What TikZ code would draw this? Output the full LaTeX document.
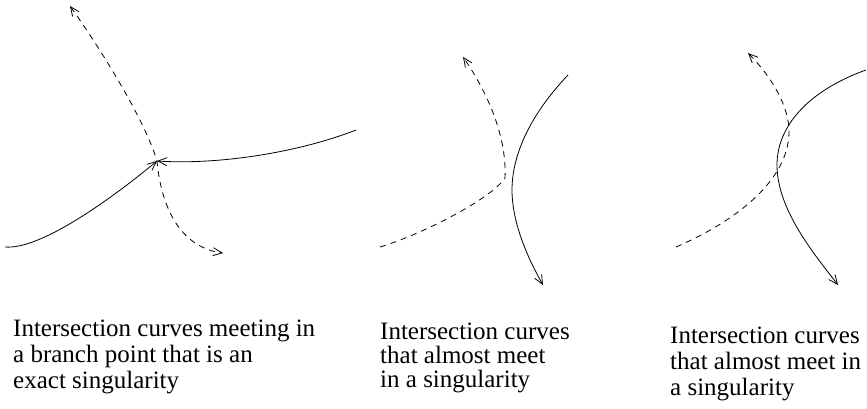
\documentclass[tikz,border=0pt]{standalone}
\usepackage{fontspec}
\setmainfont{Liberation Serif}
\usetikzlibrary{arrows.meta}
\begin{document}
\begin{tikzpicture}[x=1pt,y=-1pt,>={Straight Barb[length=9pt,width=8pt]},
  curve/.style={line width=0.8pt},
  sheet/.style={line width=0.8pt,dash pattern=on 6pt off 5pt},
  caption/.style={anchor=base west,align=left,inner sep=0pt,font=\fontsize{25}{26}\selectfont}]
\useasboundingbox (0,0) rectangle (867,408);
\coordinate (S) at (157,161);
\coordinate (A1) at (70,6);
\coordinate (B1) at (223,253);
\coordinate (C1) at (5,247);
\coordinate (D1) at (356,130);
\draw[sheet,<->] (A1) .. controls (100,48) and (145,120) .. (S)
  .. controls (162,215) and (185,248) .. (B1);
\draw[curve,->] (C1) .. controls (40,250) and (110,200) .. (S);
\draw[curve,->] (D1) .. controls (300,152) and (220,165) .. (S);
\coordinate (A2) at (380,247);
\coordinate (K2) at (505,178);
\coordinate (B2) at (463,57);
\coordinate (C2) at (568,75);
\coordinate (M2) at (512,190);
\coordinate (D2) at (543,285);
\draw[sheet,->] (A2) .. controls (420,235) and (490,200) .. (K2)
  .. controls (507,135) and (486,90) .. (B2);
\draw[curve,->] (C2) .. controls (530,115) and (512,155) .. (M2)
  .. controls (512,225) and (530,262) .. (D2);
\coordinate (A3) at (676,247);
\coordinate (K3) at (789,130);
\coordinate (B3) at (748,53);
\coordinate (C3) at (866,70);
\coordinate (M3) at (777,165);
\coordinate (D3) at (838,285);
\draw[sheet,->] (A3) .. controls (745,217) and (790,175) .. (K3)
  .. controls (788,100) and (765,70) .. (B3);
\draw[curve,->] (C3) .. controls (810,90) and (777,125) .. (M3)
  .. controls (777,210) and (815,255) .. (D3);
\node[caption] (T1) at (13,388) {Intersection curves meeting in\\a branch point that is an\\exact singularity};
\node[caption,font=\fontsize{25}{24}\selectfont] (T2) at (380,387) {Intersection curves\\that almost meet\\in a singularity};
\node[caption] (T3) at (670,395) {Intersection curves\\that almost meet in\\a singularity};
\end{tikzpicture}
\end{document}
